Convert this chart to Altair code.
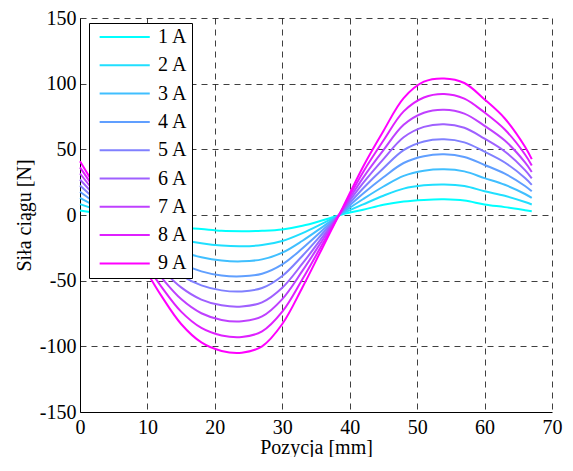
import altair as alt
import pandas as pd

# Position along the track [mm]
position_mm = [0, 3, 6, 9, 12, 15, 18, 21, 24, 27, 30, 33, 36, 39, 42, 45, 48, 51, 54, 57, 60, 63, 66, 67]

# Thrust force [N] for each current
force_1A = [3.5, 1.0, -2.0, -5.0, -7.5, -9.5, -10.7, -12.0, -12.3, -12.0, -11.0, -8.2, -4.0, 0.6, 4.0, 7.8, 10.3, 11.5, 11.9, 11.0, 8.0, 6.0, 3.7, 2.9]
force_2A = [8.3, 2.9, -2.9, -8.7, -14.1, -18.6, -21.5, -23.3, -23.8, -22.9, -19.8, -13.8, -6.4, 1.3, 8.1, 14.7, 20.1, 22.6, 23.3, 22.1, 18.1, 14.6, 9.9, 8.0]
force_3A = [13.0, 4.7, -3.9, -12.5, -20.7, -27.8, -32.2, -34.7, -35.3, -33.8, -28.7, -19.6, -9.0, 2.0, 12.2, 21.7, 29.8, 33.7, 34.8, 33.2, 28.1, 23.0, 16.0, 13.0]
force_4A = [17.7, 6.5, -4.8, -16.2, -27.3, -36.9, -42.9, -46.1, -46.7, -44.7, -37.6, -25.3, -11.4, 2.6, 16.3, 28.7, 39.6, 44.8, 46.2, 44.2, 38.1, 31.5, 22.1, 18.0]
force_5A = [22.4, 8.4, -5.8, -19.9, -34.0, -46.0, -53.6, -57.4, -58.2, -55.6, -46.4, -31.0, -13.9, 3.3, 20.4, 35.6, 49.4, 56.0, 57.6, 55.3, 48.2, 40.0, 28.2, 23.0]
force_6A = [27.0, 10.2, -6.8, -23.8, -40.6, -55.1, -64.4, -68.8, -69.7, -66.5, -55.4, -36.9, -16.5, 4.0, 24.5, 42.6, 59.2, 67.1, 69.1, 66.4, 58.1, 48.4, 34.2, 27.9]
force_7A = [31.6, 12.0, -7.7, -27.4, -47.1, -64.0, -74.8, -79.9, -80.9, -77.2, -64.0, -42.4, -18.9, 4.6, 28.5, 49.4, 68.7, 77.9, 80.2, 77.2, 67.9, 56.7, 40.1, 32.8]
force_8A = [36.3, 13.7, -8.9, -31.5, -54.1, -73.6, -86.0, -91.7, -92.9, -88.6, -73.6, -48.7, -21.7, 5.3, 32.8, 56.7, 78.9, 89.5, 92.2, 88.6, 78.0, 65.1, 46.1, 37.7]
force_9A = [41.0, 15.5, -10.0, -35.5, -61.0, -83.0, -97.0, -103.5, -104.8, -100.0, -83.0, -55.0, -24.5, 6.0, 37.0, 64.0, 89.0, 101.5, 104.0, 100.5, 88.0, 73.5, 52.0, 42.5]

currents = ["1 A", "2 A", "3 A", "4 A", "5 A", "6 A", "7 A", "8 A", "9 A"]
colors = ["#00ffff", "#20dfff", "#40bfff", "#609fff", "#8080ff",
          "#9f60ff", "#bf40ff", "#df20ff", "#ff00ff"]

x_ticks = [0, 10, 20, 30, 40, 50, 60, 70]
y_ticks = [-150, -100, -50, 0, 50, 100, 150]

all_series = [force_1A, force_2A, force_3A, force_4A, force_5A,
              force_6A, force_7A, force_8A, force_9A]

rows = []
for label, series in zip(currents, all_series):
    for x, f in zip(position_mm, series):
        rows.append({"pos": x, "force": f, "current": label})
df = pd.DataFrame(rows)

FONT = "Liberation Serif"

chart = alt.Chart(df).mark_line(strokeWidth=2, interpolate="catmull-rom").encode(
    x=alt.X("pos:Q",
            scale=alt.Scale(domain=[0, 70], nice=False, zero=False),
            axis=alt.Axis(values=x_ticks, title="Pozycja [mm]",
                          labelFlush=False, labelOverlap=False,
                          labelPadding=5, titlePadding=0)),
    y=alt.Y("force:Q",
            scale=alt.Scale(domain=[-150, 150], nice=False),
            axis=alt.Axis(values=y_ticks, title="Siła ciągu [N]",
                          labelFlush=False, labelOverlap=False,
                          labelExpr="'' + datum.value",
                          labelPadding=4, titlePadding=5)),
    color=alt.Color("current:N",
                    scale=alt.Scale(domain=currents, range=colors),
                    legend=alt.Legend(title=None, orient="none",
                                      legendX=9, legendY=5,
                                      fillColor="white", strokeColor="black",
                                      padding=4, symbolOffset=5,
                                      symbolType="M-1,0H5", symbolSize=279,
                                      symbolStrokeWidth=2,
                                      labelFont=FONT, labelFontSize=20,
                                      labelColor="black",
                                      labelOffset=40, rowPadding=8.3)),
).properties(
    width=472, height=394,
    autosize=alt.AutoSizeParams(type="none"),
    padding={"left": 72, "top": 10, "right": 11, "bottom": 45},
    background="white",
).configure_axis(
    domainColor="black", domainWidth=1, ticks=False,
    grid=True, gridColor="black", gridDash=[6, 5], gridOpacity=0.75, gridWidth=1,
    labelFont=FONT, labelFontSize=20, labelColor="black",
    titleFont=FONT, titleFontSize=20, titleFontWeight="normal", titleColor="black",
).configure_view(stroke=None)

chart.save("out.html", embed_options={"renderer": "svg", "actions": False})
